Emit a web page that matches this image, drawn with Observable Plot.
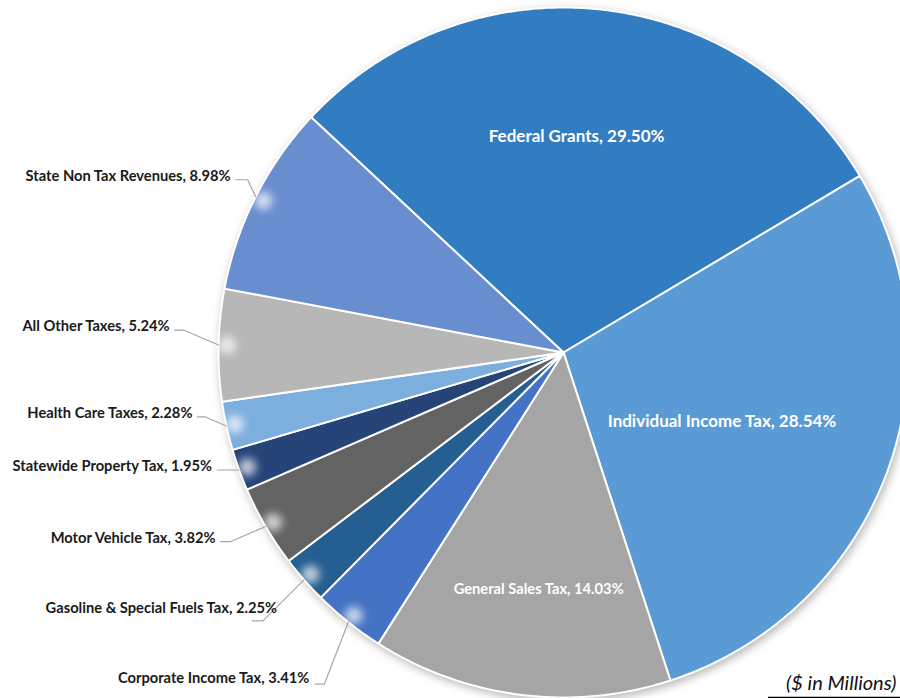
<!DOCTYPE html>
<html><head><meta charset="utf-8">
<script src="https://cdn.jsdelivr.net/npm/d3@7"></script>
<script src="https://cdn.jsdelivr.net/npm/@observablehq/plot@0.6"></script>
<style>body{margin:0;background:#fff;overflow:hidden;} #chart svg{display:block;}</style>
</head><body><div id="chart"></div>
<script>
// ---- data ----
const categories = ["Federal Grants","Individual Income Tax","General Sales Tax","Corporate Income Tax","Gasoline & Special Fuels Tax","Motor Vehicle Tax","Statewide Property Tax","Health Care Taxes","All Other Taxes","State Non Tax Revenues"];
const shares = [29.50, 28.54, 14.03, 3.41, 2.25, 3.82, 1.95, 2.28, 5.24, 8.98];
const colors = ["#327DC2","#5B9BD5","#A5A5A5","#4472C4","#255E91","#636363","#264478","#7CAFDD","#B7B7B7","#698ED0"];
const note = "($ in Millions)";

// ---- layout (not data) ----
const W = 900, H = 698, CX = 563, CY = 352, R = 345, START_DEG = 313;
const FONT = "Lato, 'Open Sans', sans-serif";
// inside labels: radial fraction, pixel nudges
const insideLayout = {
  "Federal Grants": {r: 0.63, dx: -10, dy: 0, size: 17},
  "Individual Income Tax": {r: 0.5, dx: -3, dy: 8, size: 17},
  "General Sales Tax": {r: 0.69, dx: 5, dy: 1, size: 14.7}
};
// outside labels: knee offset from slice edge (px), horizontal run (px), text offset from run end (px)
const outsideLayout = {
  "State Non Tax Revenues": {knee: [-8, -17], run: 12, text: [-5, 1]},
  "All Other Taxes": {knee: [-35, -15], run: 9, text: [-5, 1]},
  "Health Care Taxes": {knee: [-21, -9], run: 8, text: [-5, 1]},
  "Statewide Property Tax": {knee: [-9, 0], run: 13, text: [-5, 1]},
  "Motor Vehicle Tax": {knee: [-35, 15], run: 10, text: [-5, 1]},
  "Gasoline & Special Fuels Tax": {knee: [-41, 41], run: 11, text: [25, -8]},
  "Corporate Income Tax": {knee: [-24, 62], run: 9, text: [-6, -1]}
};

// ---- geometry ----
const px = (dx) => dx / R;     // pixel offset -> data units (x)
const py = (dy) => -dy / R;    // pixel offset (down) -> data units (y up)
const start = START_DEG * Math.PI / 180;
const arcs = d3.pie().sort(null).value(d => d).startAngle(start).endAngle(start + 2 * Math.PI)(shares);

const slicePts = [];
arcs.forEach((a, i) => {
  const name = categories[i];
  slicePts.push({name, x: 0, y: 0});
  const n = Math.max(4, Math.ceil((a.endAngle - a.startAngle) / (Math.PI / 360)));
  for (let k = 0; k <= n; k++) {
    const t = a.startAngle + (a.endAngle - a.startAngle) * k / n;
    slicePts.push({name, x: Math.sin(t), y: Math.cos(t)});
  }
});

const mid = (a) => (a.startAngle + a.endAngle) / 2;
const insideLabels = [], leaderPts = [], outsideLabels = [], glows = [];
arcs.forEach((a, i) => {
  const name = categories[i];
  const m = mid(a);
  const label = `${name}, ${shares[i].toFixed(2)}%`;
  if (insideLayout[name]) {
    const L = insideLayout[name];
    insideLabels.push({label, size: L.size, x: L.r * Math.sin(m) + px(L.dx), y: L.r * Math.cos(m) + py(L.dy)});
  } else if (outsideLayout[name]) {
    const L = outsideLayout[name];
    const ex = Math.sin(m), ey = Math.cos(m);
    const kx = ex + px(L.knee[0]), ky = ey + py(L.knee[1]);
    const sx = kx - px(L.run), sy = ky;
    leaderPts.push({name, x: ex, y: ey}, {name, x: kx, y: ky}, {name, x: sx, y: sy});
    outsideLabels.push({label, x: sx + px(L.text[0]), y: sy + py(L.text[1])});
    glows.push({name, x: ex * 0.975, y: ey * 0.975});
  }
});

const xDomain = [-CX / R, (W - CX) / R];
const yDomain = [-(H - CY) / R, CY / R];

const chart = Plot.plot({
  width: W, height: H,
  margin: 0,
  x: {domain: xDomain, axis: null},
  y: {domain: yDomain, axis: null},
  color: {domain: categories, range: colors},
  style: {fontFamily: FONT, background: "#fff"},
  marks: [
    Plot.line(slicePts, {x: "x", y: "y", z: "name", fill: "name", stroke: "white", strokeWidth: 2, strokeLinejoin: "round", curve: "linear-closed"}),
    Plot.dot(glows, {x: "x", y: "y", r: 9, fill: "white", fillOpacity: 0.7}),
    Plot.line(leaderPts, {x: "x", y: "y", z: "name", stroke: "#A6A6A6", strokeWidth: 1.2}),
    Plot.text(outsideLabels, {x: "x", y: "y", text: "label", textAnchor: "end", lineAnchor: "bottom", fontWeight: "bold", fontSize: 14.7, fill: "#1a1a1a"}),
    Plot.text(insideLabels, {x: "x", y: "y", text: "label", fontWeight: "bold", fontSize: "size", fill: "white"}),
    Plot.text([note], {x: px(W - 4 - CX), y: py(689 - CY), text: d => d, textAnchor: "end", lineAnchor: "bottom", fontStyle: "italic", fontSize: 20, fill: "#111"}),
    Plot.ruleY([py(697 - CY)], {x1: px(768 - CX), x2: px(W + 5 - CX), stroke: "#000", strokeWidth: 1.5})
  ]
});
document.getElementById("chart").appendChild(chart);
const groups = chart.querySelectorAll('g[aria-label="line"]');
if (groups[0]) groups[0].style.filter = "drop-shadow(2px 3px 4px rgba(0,0,0,0.28))";
const dots = chart.querySelector('g[aria-label="dot"]');
if (dots) dots.style.filter = "blur(4px)";
</script>
</body></html>
